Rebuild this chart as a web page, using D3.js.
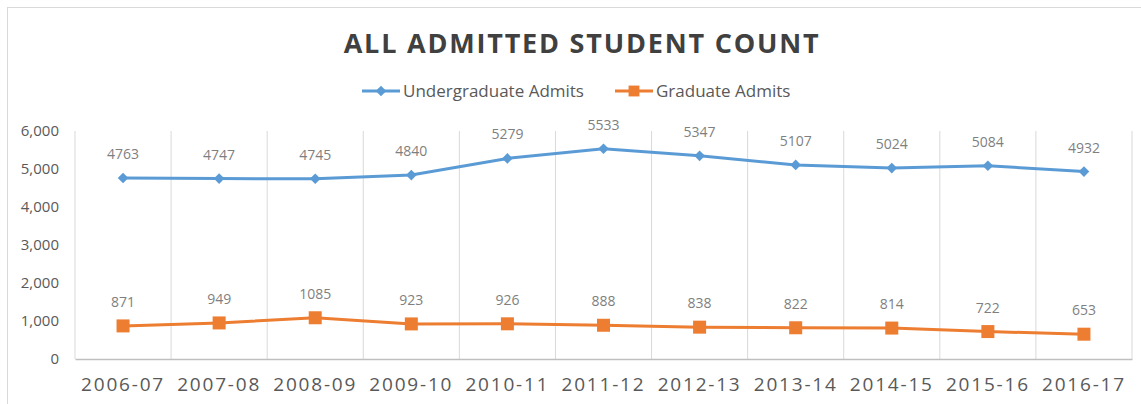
<!DOCTYPE html>
<html>
<head>
<meta charset="utf-8">
<script src="https://cdn.jsdelivr.net/npm/d3@7"></script>
<style>
  body { margin: 0; background: #fff; }
  svg { display: block; font-family: "Open Sans", "DejaVu Sans", sans-serif; }
</style>
</head>
<body>
<svg width="1141" height="404"></svg>
<script>
// data
const years = ["2006-07", "2007-08", "2008-09", "2009-10", "2010-11", "2011-12",
               "2012-13", "2013-14", "2014-15", "2015-16", "2016-17"];
const undergrad = [4763, 4747, 4745, 4840, 5279, 5533, 5347, 5107, 5024, 5084, 4932];
const grad = [871, 949, 1085, 923, 926, 888, 838, 822, 814, 722, 653];
const yTicks = [0, 1000, 2000, 3000, 4000, 5000, 6000];

const blue = "#5B9BD5", orange = "#ED7D31";

const svg = d3.select("svg");

// outer chart frame
svg.append("rect")
    .attr("x", 7.5).attr("y", 7.5)
    .attr("width", 1150).attr("height", 420)
    .attr("fill", "none").attr("stroke", "#d9d9d9");

// scales
const x = d3.scaleBand()
    .domain(years)
    .range([75, 1132]);

const y = d3.scaleLinear()
    .domain([0, 6000])
    .range([359, 131]);

const cx = (d, i) => x(years[i]) + x.bandwidth() / 2;

// vertical grid lines at category boundaries
const bounds = years.map(d => x(d)).concat([x.range()[1]]);
svg.append("g").selectAll("line")
    .data(bounds)
    .enter()
    .append("line")
    .attr("x1", d => d).attr("x2", d => d)
    .attr("y1", y(6000)).attr("y2", y(0))
    .attr("stroke", "#d9d9d9");

// x axis
const xAxis = svg.append("g")
    .attr("transform", "translate(0," + y(0) + ")")
    .call(d3.axisBottom(x).tickSize(0).tickPadding(19));
xAxis.select(".domain").attr("stroke", "#bfbfbf").attr("stroke-width", 1.5);
xAxis.selectAll("text")
    .attr("font-size", 19)
    .attr("letter-spacing", 1.8)
    .attr("fill", "#595959")
    .attr("font-family", "\"Open Sans\", sans-serif");

// y axis
const yAxis = svg.append("g")
    .attr("transform", "translate(59,0)")
    .call(d3.axisLeft(y).tickValues(yTicks).tickSize(0).tickPadding(0)
        .tickFormat(d3.format(",")));
yAxis.select(".domain").remove();
yAxis.selectAll("text")
    .attr("font-size", 15)
    .attr("fill", "#595959")
    .attr("font-family", "\"Open Sans\", sans-serif");

// lines
const line = d3.line()
    .x(cx)
    .y(d => y(d));

[[undergrad, blue], [grad, orange]].forEach(([vals, col]) => {
    svg.append("path")
        .datum(vals)
        .attr("d", line)
        .attr("fill", "none")
        .attr("stroke", col)
        .attr("stroke-width", 3);
});

// markers
svg.selectAll(".ug")
    .data(undergrad)
    .enter()
    .append("path")
    .attr("class", "ug")
    .attr("d", d3.symbol(d3.symbolDiamond2, 72))
    .attr("transform", (d, i) => "translate(" + cx(d, i) + "," + y(d) + ")")
    .attr("fill", blue);

svg.selectAll(".gr")
    .data(grad)
    .enter()
    .append("rect")
    .attr("class", "gr")
    .attr("x", (d, i) => cx(d, i) - 6.5)
    .attr("y", d => y(d) - 6.5)
    .attr("width", 13).attr("height", 13)
    .attr("fill", orange);

// data labels
[undergrad, grad].forEach(vals => {
    svg.append("g").selectAll("text")
        .data(vals)
        .enter()
        .append("text")
        .attr("x", cx)
        .attr("y", d => y(d) - 19)
        .attr("text-anchor", "middle")
        .attr("font-size", 14)
        .attr("fill", "#7f7f7f")
        .text(d => d);
});

// title
svg.append("text")
    .attr("x", 582).attr("y", 53)
    .attr("text-anchor", "middle")
    .attr("font-size", 27)
    .attr("font-weight", "bold")
    .attr("letter-spacing", 1.8)
    .attr("fill", "#404040")
    .text("ALL ADMITTED STUDENT COUNT");

// legend
const legend = [
    { name: "Undergraduate Admits", color: blue, x0: 362, shape: "diamond" },
    { name: "Graduate Admits", color: orange, x0: 615, shape: "square" }
];
const lg = svg.append("g").selectAll("g")
    .data(legend)
    .enter()
    .append("g")
    .attr("transform", d => "translate(" + d.x0 + ",91)");
lg.append("line")
    .attr("x1", 0).attr("x2", 38)
    .attr("stroke", d => d.color).attr("stroke-width", 3);
lg.append("path")
    .attr("d", d => d.shape === "diamond"
        ? d3.symbol(d3.symbolDiamond2, 72)()
        : d3.symbol(d3.symbolSquare2, 150)())
    .attr("transform", "translate(19,0)")
    .attr("fill", d => d.color);
lg.append("text")
    .attr("x", 41).attr("y", 6)
    .attr("font-size", 17)
    .attr("fill", "#595959")
    .text(d => d.name);
</script>
</body>
</html>
